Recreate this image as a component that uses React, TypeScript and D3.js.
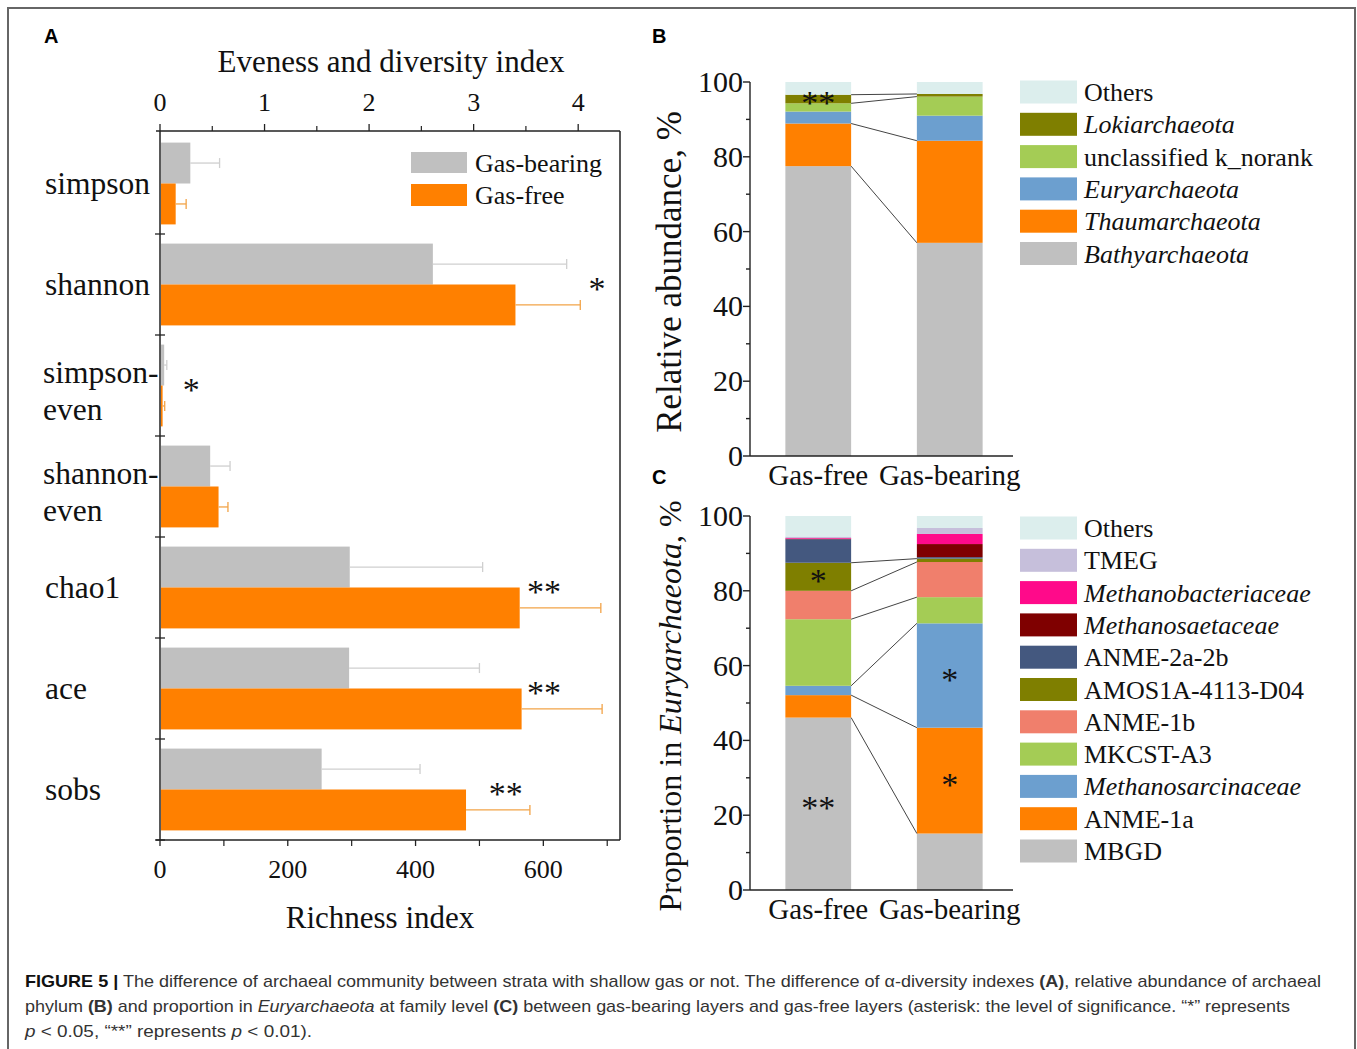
import React from 'react';
import * as d3 from 'd3';

const SERIF = '"Liberation Serif", "Times New Roman", serif';
const SANS = '"Liberation Sans", Arial, sans-serif';

// ---- panel A: alpha diversity ----
const indexNames = ['simpson', 'shannon', 'simpson-even', 'shannon-even', 'chao1', 'ace', 'sobs'];
const richnessNames = ['chao1', 'ace', 'sobs'];
const bearingMean = [0.29, 2.61, 0.04, 0.48, 297, 296, 253];
const bearingSd = [0.28, 1.28, 0.025, 0.19, 208, 204, 154];
const freeMean = [0.15, 3.4, 0.025, 0.56, 563, 566, 479];
const freeSd = [0.1, 0.62, 0.02, 0.09, 127, 126, 100];
const indexStars = ['', '*', '*', '', '**', '**', '**'];
const indexStarAt = [0, 4.18, 0.3, 0, 601, 601, 541];
const diversityTicks = [0, 1, 2, 3, 4];
const diversityMinor = [0.5, 1.5, 2.5, 3.5];
const richnessTicks = [0, 200, 400, 600];
const richnessMinor = [100, 300, 500, 700];

// ---- panels B and C ----
const groups = ['Gas-free', 'Gas-bearing'];

const phylumNames = ['Bathyarchaeota', 'Thaumarchaeota', 'Euryarchaeota', 'unclassified k_norank', 'Lokiarchaeota', 'Others'];
const phylumFree = [77.5, 11.4, 3.2, 2.2, 2.3, 3.4];
const phylumBearing = [57.0, 27.3, 6.7, 5.1, 0.7, 3.2];
const phylumColors = ['#c0c0c0', '#ff8000', '#6c9fcf', '#a4cc55', '#7f7f00', '#dceeed'];
const phylumItalic = ['Bathyarchaeota', 'Thaumarchaeota', 'Euryarchaeota', 'Lokiarchaeota'];
const phylumLinked = ['Bathyarchaeota', 'Thaumarchaeota', 'unclassified k_norank', 'Lokiarchaeota'];
const phylumStars = [{ group: 'Gas-free', name: 'Lokiarchaeota', mark: '**' }];

const familyNames = ['MBGD', 'ANME-1a', 'Methanosarcinaceae', 'MKCST-A3', 'ANME-1b', 'AMOS1A-4113-D04', 'ANME-2a-2b', 'Methanosaetaceae', 'Methanobacteriaceae', 'TMEG', 'Others'];
const familyFree = [46.1, 6.0, 2.5, 17.8, 7.6, 7.5, 6.3, 0.1, 0.2, 0.4, 5.5];
const familyBearing = [15.1, 28.3, 27.9, 7.0, 9.4, 0.9, 0.4, 3.5, 2.7, 1.6, 3.2];
const familyColors = ['#c0c0c0', '#ff8000', '#6c9fcf', '#a4cc55', '#f07f6c', '#7f7f00', '#44587f', '#7f0000', '#ff0a8a', '#c6bfdb', '#dceeed'];
const familyItalic = ['Methanosarcinaceae', 'Methanosaetaceae', 'Methanobacteriaceae'];
const familyLinked = ['MBGD', 'ANME-1a', 'Methanosarcinaceae', 'MKCST-A3', 'ANME-1b', 'AMOS1A-4113-D04'];
const familyStars = [
  { group: 'Gas-free', name: 'AMOS1A-4113-D04', mark: '*' },
  { group: 'Gas-free', name: 'MBGD', mark: '**' },
  { group: 'Gas-bearing', name: 'Methanosarcinaceae', mark: '*' },
  { group: 'Gas-bearing', name: 'ANME-1a', mark: '*' },
];

const yTicks = [0, 20, 40, 60, 80, 100];
const yMinor = [10, 30, 50, 70, 90];

function PanelA() {
  const left = 160, right = 620, top = 131, bottom = 840;
  const xDiv = d3.scaleLinear().domain([0, 4.4]).range([left, right]);
  const xRich = d3.scaleLinear().domain([0, 720]).range([left, right]);
  const y = d3.scaleBand().domain(indexNames).range([133, bottom]).paddingInner(0.19).paddingOuter(0.095);
  const bw = y.bandwidth();
  const half = bw / 2;
  const step = y.step();
  const scaleFor = (n) => (richnessNames.includes(n) ? xRich : xDiv);

  const errBar = (x, m, sd, cy, color, key) => (
    <g key={key} stroke={color} strokeWidth={1.3}>
      <line x1={x(m)} x2={x(m + sd)} y1={cy} y2={cy} />
      <line x1={x(m + sd)} x2={x(m + sd)} y1={cy - 5} y2={cy + 5} />
    </g>
  );

  return (
    <g fontFamily={SERIF} fill="#111">
      <text x={391} y={72} fontSize={31} textAnchor="middle">Eveness and diversity index</text>
      {/* frame */}
      <g stroke="#222" strokeWidth={1.5}>
        <line x1={156} x2={right} y1={top} y2={top} />
        <line x1={left} x2={left} y1={top} y2={bottom} />
        <line x1={right} x2={right} y1={top} y2={bottom} />
        <line x1={156} x2={right} y1={bottom} y2={bottom} />
      </g>
      {/* top axis */}
      {diversityTicks.map((t) => (
        <g key={'dt' + t}>
          <line x1={xDiv(t)} x2={xDiv(t)} y1={top} y2={top - 7} stroke="#222" strokeWidth={1.3} />
          <text x={xDiv(t)} y={111} fontSize={26} textAnchor="middle">{t}</text>
        </g>
      ))}
      {diversityMinor.map((t) => (
        <line key={'dm' + t} x1={xDiv(t)} x2={xDiv(t)} y1={top} y2={top - 5} stroke="#222" strokeWidth={1.2} />
      ))}
      {/* bottom axis */}
      {richnessTicks.map((t) => (
        <g key={'rt' + t}>
          <line x1={xRich(t)} x2={xRich(t)} y1={bottom} y2={bottom + 6} stroke="#222" strokeWidth={1.3} />
          <text x={xRich(t)} y={878} fontSize={26} textAnchor="middle">{t}</text>
        </g>
      ))}
      {richnessMinor.map((t) => (
        <line key={'rm' + t} x1={xRich(t)} x2={xRich(t)} y1={bottom} y2={bottom + 6} stroke="#222" strokeWidth={1.2} />
      ))}
      <text x={380} y={928} fontSize={31} textAnchor="middle">Richness index</text>
      {/* category ticks */}
      {indexNames.map((n) => {
        const b = y(n) + bw + (step - bw) / 2;
        return <line key={'ct' + n} x1={left - 5} x2={left + 5} y1={b} y2={b} stroke="#222" strokeWidth={1.3} />;
      })}
      {/* bars */}
      {indexNames.map((n, i) => {
        const x = scaleFor(n);
        const y0 = y(n);
        return (
          <g key={'bar' + n}>
            <rect x={left + 1} y={y0} width={x(bearingMean[i]) - left - 1} height={half} fill="#c0c0c0" />
            <rect x={left + 1} y={y0 + half} width={x(freeMean[i]) - left - 1} height={half} fill="#ff8000" />
            {errBar(x, bearingMean[i], bearingSd[i], y0 + half / 2, '#cfcfcf', 'eb' + n)}
            {errBar(x, freeMean[i], freeSd[i], y0 + half * 1.5, '#f2a347', 'ef' + n)}
            {indexStars[i] && (
              <text x={x(indexStarAt[i])} y={y0 + half + 15} fontSize={34} textAnchor="middle">{indexStars[i]}</text>
            )}
          </g>
        );
      })}
      {/* category labels */}
      {indexNames.map((n) => {
        const c = y(n) + half;
        const parts = n.split('-');
        if (parts.length > 1) {
          return (
            <text key={'lab' + n} x={43} fontSize={31.5}>
              <tspan x={43} y={c - 3}>{parts[0] + '-'}</tspan>
              <tspan x={43} y={c + 34}>{parts[1]}</tspan>
            </text>
          );
        }
        return <text key={'lab' + n} x={45} y={c + 10} fontSize={31.5}>{n}</text>;
      })}
      {/* legend */}
      <rect x={411} y={152} width={56} height={21} fill="#c0c0c0" />
      <rect x={411} y={184} width={56} height={22} fill="#ff8000" />
      <text x={475} y={172} fontSize={26}>Gas-bearing</text>
      <text x={475} y={204} fontSize={26}>Gas-free</text>
    </g>
  );
}

function StackPanel({ names, free, bearing, colors, italic, linked, stars, top, bottom, legendY, title, titleSize }) {
  const rows = groups.map((g, gi) => {
    const r = { group: g };
    const vals = gi === 0 ? free : bearing;
    names.forEach((n, i) => (r[n] = vals[i]));
    return r;
  });
  const series = d3.stack().keys(names)(rows);
  const x = d3.scaleBand().domain(groups).range([752.5, 1015.5]).paddingInner(0.5).paddingOuter(0.25);
  const y = d3.scaleLinear().domain([0, 100]).range([bottom, top]);
  const bw = x.bandwidth();
  const axisX = 750;
  const legendStep = 32.3;
  const legendNames = names.slice().reverse();

  return (
    <g fontFamily={SERIF} fill="#111">
      {/* stacks */}
      {series.map((s, si) =>
        s.map((d, gi) => (
          <rect key={s.key + gi} x={x(groups[gi])} y={y(d[1])} width={bw} height={Math.max(0, y(d[0]) - y(d[1]))} fill={colors[si]} />
        ))
      )}
      {/* connectors */}
      {series
        .filter((s) => linked.includes(s.key))
        .map((s) => (
          <line
            key={'ln' + s.key}
            x1={x(groups[0]) + bw}
            y1={y(s[0][1])}
            x2={x(groups[1])}
            y2={y(s[1][1])}
            stroke="#444"
            strokeWidth={1}
          />
        ))}
      {/* significance */}
      {stars.map((st) => {
        const s = series.find((e) => e.key === st.name);
        const gi = groups.indexOf(st.group);
        const mid = (s[gi][0] + s[gi][1]) / 2;
        return (
          <text key={'st' + st.name + gi} x={x(st.group) + bw / 2} y={y(mid) + 15} fontSize={34} textAnchor="middle">
            {st.mark}
          </text>
        );
      })}
      {/* axes */}
      <g stroke="#222" strokeWidth={1.4}>
        <line x1={axisX} x2={axisX} y1={top} y2={bottom} />
        <line x1={axisX} x2={1013} y1={bottom} y2={bottom} />
        {yTicks.map((t) => (
          <line key={'yt' + t} x1={axisX - 7} x2={axisX} y1={y(t)} y2={y(t)} />
        ))}
        {yMinor.map((t) => (
          <line key={'ym' + t} x1={axisX - 4} x2={axisX} y1={y(t)} y2={y(t)} />
        ))}
      </g>
      {yTicks.map((t) => (
        <text key={'yl' + t} x={743} y={y(t) + 10} fontSize={30} textAnchor="end">{t}</text>
      ))}
      {groups.map((g) => (
        <text key={'g' + g} x={x(g) + bw / 2} y={bottom + 29} fontSize={29} textAnchor="middle">{g}</text>
      ))}
      <text transform={`translate(681,${(top + bottom) / 2 + 3}) rotate(-90)`} fontSize={titleSize} textAnchor="middle">
        {title}
      </text>
      {/* legend */}
      {legendNames.map((n, i) => {
        const c = legendY + i * legendStep;
        return (
          <g key={'lg' + n}>
            <rect x={1020} y={c - 11.5} width={57} height={23} fill={colors[names.indexOf(n)]} />
            <text x={1084} y={c + 9} fontSize={26} fontStyle={italic.includes(n) ? 'italic' : 'normal'}>{n}</text>
          </g>
        );
      })}
    </g>
  );
}

export default function App() {
  return (
    <svg width={1357} height={1049} style={{ position: 'absolute', left: 0, top: 0, background: '#fff' }}>
      <rect x={8} y={8} width={1347} height={1080} fill="none" stroke="#666" strokeWidth={2} />
      <g fontFamily={SANS} fontWeight="bold" fontSize={20} fill="#000">
        <text x={44} y={43}>A</text>
        <text x={652} y={43}>B</text>
        <text x={652} y={484}>C</text>
      </g>
      <PanelA />
      <StackPanel
        names={phylumNames}
        free={phylumFree}
        bearing={phylumBearing}
        colors={phylumColors}
        italic={phylumItalic}
        linked={phylumLinked}
        stars={phylumStars}
        top={82}
        bottom={456}
        legendY={92}
        title="Relative abundance, %"
        titleSize={35}
      />
      <StackPanel
        names={familyNames}
        free={familyFree}
        bearing={familyBearing}
        colors={familyColors}
        italic={familyItalic}
        linked={familyLinked}
        stars={familyStars}
        top={516}
        bottom={890}
        legendY={528}
        title={
          <>
            Proportion in <tspan fontStyle="italic">Euryarchaeota</tspan>, %
          </>
        }
        titleSize={32}
      />
      <g fontFamily={SANS} fontSize={17} fill="#333">
        <text x={25} y={987} textLength={1296} lengthAdjust="spacingAndGlyphs">
          <tspan fontWeight="bold" fill="#111">FIGURE 5 |</tspan> The difference of archaeal community between strata with shallow gas or not. The difference of α-diversity indexes <tspan fontWeight="bold">(A)</tspan>, relative abundance of archaeal
        </text>
        <text x={25} y={1012} textLength={1265} lengthAdjust="spacingAndGlyphs">
          phylum <tspan fontWeight="bold">(B)</tspan> and proportion in <tspan fontStyle="italic">Euryarchaeota</tspan> at family level <tspan fontWeight="bold">(C)</tspan> between gas-bearing layers and gas-free layers (asterisk: the level of significance. “*” represents
        </text>
        <text x={25} y={1037} textLength={287} lengthAdjust="spacingAndGlyphs">
          <tspan fontStyle="italic">p</tspan> &lt; 0.05, “**” represents <tspan fontStyle="italic">p</tspan> &lt; 0.01).
        </text>
      </g>
    </svg>
  );
}
